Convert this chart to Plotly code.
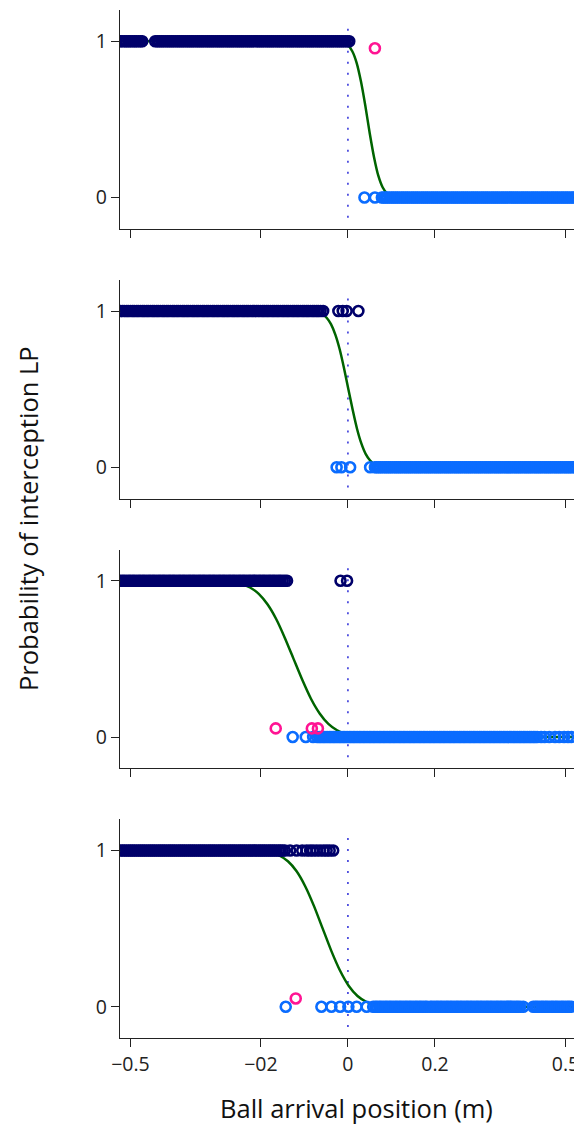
import plotly.graph_objects as go
from plotly.subplots import make_subplots

# ---------------- data ----------------
X_TICKS = [-0.5, -0.2, 0, 0.2, 0.5]
X_TICKTEXT = ["\u22120.5", "\u221202", "0", "0.2", "0.5"]
Y_TICKS = [0, 1]
Y_TICKTEXT = ["0", "1"]

# Panel 1
p1_hit = [-0.523, -0.519, -0.514, -0.510, -0.505, -0.501, -0.496, -0.491, -0.487, -0.482, -0.477, -0.473,
          -0.443, -0.438, -0.434, -0.429, -0.425, -0.420, -0.415, -0.411, -0.406, -0.402, -0.397, -0.392,
          -0.388, -0.383, -0.379, -0.374, -0.369, -0.365, -0.360, -0.356, -0.351, -0.346, -0.342, -0.337,
          -0.333, -0.328, -0.323, -0.319, -0.314, -0.310, -0.305, -0.300, -0.296, -0.291, -0.287, -0.282,
          -0.277, -0.273, -0.268, -0.264, -0.259, -0.254, -0.250, -0.245, -0.241, -0.236, -0.231, -0.227,
          -0.222, -0.218, -0.213, -0.208, -0.204, -0.199, -0.195, -0.190, -0.185, -0.181, -0.176, -0.172,
          -0.167, -0.162, -0.158, -0.153, -0.149, -0.144, -0.139, -0.135, -0.130, -0.126, -0.121, -0.116,
          -0.112, -0.107, -0.103, -0.098, -0.093, -0.089, -0.084, -0.080, -0.075, -0.070, -0.066, -0.061,
          -0.057, -0.052, -0.047, -0.043, -0.038, -0.034, -0.029, -0.024, -0.020, -0.015, -0.011, -0.006,
          -0.001, 0.003]
p1_miss = [0.038, 0.062, 0.078, 0.082, 0.087, 0.091, 0.096, 0.101, 0.105, 0.110, 0.114, 0.119, 0.124,
           0.128, 0.133, 0.137, 0.142, 0.147, 0.151, 0.156, 0.160, 0.165, 0.170, 0.174, 0.179, 0.183,
           0.188, 0.193, 0.197, 0.202, 0.206, 0.211, 0.216, 0.220, 0.225, 0.229, 0.234, 0.239, 0.243,
           0.248, 0.252, 0.257, 0.262, 0.266, 0.271, 0.275, 0.280, 0.285, 0.289, 0.294, 0.298, 0.303,
           0.308, 0.312, 0.317, 0.321, 0.326, 0.331, 0.335, 0.340, 0.344, 0.349, 0.354, 0.358, 0.363,
           0.367, 0.372, 0.377, 0.381, 0.386, 0.390, 0.395, 0.400, 0.404, 0.409, 0.413, 0.418, 0.423,
           0.427, 0.432, 0.436, 0.441, 0.446, 0.450, 0.455, 0.459, 0.464, 0.469, 0.473, 0.478, 0.482,
           0.487, 0.492, 0.496, 0.501, 0.505, 0.510, 0.515, 0.519]
p1_odd_x = [0.062]
p1_odd_y = [0.955]
p1_curve_x = [-0.524, -0.040, -0.025, -0.010, 0.000, 0.010, 0.020, 0.030, 0.040, 0.050, 0.060,
              0.070, 0.080, 0.090, 0.100, 0.115, 0.130, 0.522]
p1_curve_y = [1.0, 1.0, 0.999, 0.992, 0.975, 0.936, 0.862, 0.742, 0.587, 0.413, 0.258,
              0.138, 0.064, 0.025, 0.008, 0.001, 0.0, 0.0]

# Panel 2
p2_hit = [-0.523, -0.518, -0.514, -0.509, -0.505, -0.500, -0.495, -0.491, -0.486, -0.482, -0.477, -0.472,
          -0.468, -0.463, -0.459, -0.454, -0.449, -0.445, -0.440, -0.436, -0.431, -0.426, -0.422, -0.417,
          -0.413, -0.408, -0.403, -0.399, -0.394, -0.390, -0.385, -0.380, -0.376, -0.371, -0.367, -0.362,
          -0.357, -0.353, -0.348, -0.344, -0.339, -0.334, -0.330, -0.325, -0.321, -0.316, -0.311, -0.307,
          -0.302, -0.298, -0.293, -0.288, -0.284, -0.279, -0.275, -0.270, -0.265, -0.261, -0.256, -0.252,
          -0.247, -0.242, -0.238, -0.233, -0.229, -0.224, -0.219, -0.215, -0.210, -0.206, -0.201, -0.196,
          -0.192, -0.187, -0.183, -0.178, -0.173, -0.169, -0.164, -0.160, -0.155, -0.150, -0.146, -0.141,
          -0.137, -0.132, -0.127, -0.123, -0.118, -0.114, -0.109, -0.104, -0.100, -0.095, -0.091, -0.086,
          -0.081, -0.077, -0.072, -0.068, -0.063, -0.057, -0.022, -0.012, -0.003, 0.024]
p2_miss = [-0.026, -0.015, 0.005, 0.051, 0.062, 0.066, 0.071, 0.075, 0.080, 0.085, 0.089, 0.094, 0.098,
           0.103, 0.108, 0.112, 0.117, 0.121, 0.126, 0.131, 0.135, 0.140, 0.144, 0.149, 0.154, 0.158,
           0.163, 0.167, 0.172, 0.177, 0.181, 0.186, 0.190, 0.195, 0.200, 0.204, 0.209, 0.213, 0.218,
           0.223, 0.227, 0.232, 0.236, 0.241, 0.246, 0.250, 0.255, 0.259, 0.264, 0.269, 0.273, 0.278,
           0.282, 0.287, 0.292, 0.296, 0.301, 0.305, 0.310, 0.315, 0.319, 0.324, 0.328, 0.333, 0.338,
           0.342, 0.347, 0.351, 0.356, 0.361, 0.365, 0.370, 0.374, 0.379, 0.384, 0.388, 0.393, 0.397,
           0.402, 0.407, 0.411, 0.416, 0.420, 0.425, 0.430, 0.434, 0.439, 0.443, 0.448, 0.453, 0.457,
           0.462, 0.466, 0.471, 0.476, 0.480, 0.485, 0.489, 0.494, 0.499, 0.503, 0.508, 0.512, 0.517, 0.520]
p2_odd_x = []
p2_odd_y = []
p2_curve_x = [-0.524, -0.110, -0.089, -0.069, -0.059, -0.049, -0.039, -0.029, -0.019, -0.009, 0.001,
              0.011, 0.021, 0.031, 0.041, 0.051, 0.061, 0.071, 0.091, 0.110, 0.522]
p2_curve_y = [1.0, 1.0, 0.999, 0.992, 0.981, 0.957, 0.916, 0.849, 0.755, 0.634, 0.5,
              0.366, 0.245, 0.151, 0.084, 0.043, 0.019, 0.007, 0.001, 0.0, 0.0]

# Panel 3
p3_hit = [-0.523, -0.518, -0.514, -0.509, -0.504, -0.500, -0.495, -0.491, -0.486, -0.481, -0.477, -0.472,
          -0.468, -0.463, -0.458, -0.454, -0.449, -0.445, -0.440, -0.435, -0.431, -0.426, -0.422, -0.417,
          -0.412, -0.408, -0.403, -0.399, -0.394, -0.389, -0.385, -0.380, -0.376, -0.371, -0.366, -0.362,
          -0.357, -0.353, -0.348, -0.343, -0.339, -0.334, -0.330, -0.325, -0.320, -0.316, -0.311, -0.307,
          -0.302, -0.297, -0.293, -0.288, -0.284, -0.279, -0.274, -0.270, -0.265, -0.261, -0.256, -0.251,
          -0.247, -0.242, -0.238, -0.233, -0.228, -0.224, -0.219, -0.215, -0.210, -0.205, -0.201, -0.196,
          -0.192, -0.187, -0.182, -0.178, -0.173, -0.169, -0.164, -0.159, -0.155, -0.150, -0.145, -0.140,
          -0.017, -0.002]
p3_miss = [-0.127, -0.097, -0.080, -0.071, -0.066, -0.062, -0.057, -0.053, -0.048, -0.043, -0.039, -0.034,
           -0.030, -0.025, -0.020, -0.016, -0.011, -0.007, -0.002, 0.003, 0.007, 0.012, 0.016, 0.021,
           0.026, 0.030, 0.035, 0.039, 0.044, 0.049, 0.053, 0.058, 0.062, 0.067, 0.072, 0.076, 0.081,
           0.085, 0.090, 0.095, 0.099, 0.104, 0.108, 0.113, 0.118, 0.122, 0.127, 0.131, 0.136, 0.141,
           0.145, 0.150, 0.154, 0.159, 0.164, 0.168, 0.173, 0.177, 0.182, 0.187, 0.191, 0.196, 0.200,
           0.205, 0.210, 0.214, 0.219, 0.223, 0.228, 0.233, 0.237, 0.242, 0.246, 0.251, 0.256, 0.260,
           0.265, 0.269, 0.274, 0.279, 0.283, 0.288, 0.292, 0.297, 0.302, 0.306, 0.311, 0.315, 0.320,
           0.325, 0.329, 0.334, 0.338, 0.343, 0.348, 0.352, 0.357, 0.361, 0.366, 0.371, 0.375, 0.380,
           0.384, 0.389, 0.394, 0.398, 0.403, 0.407, 0.412, 0.417, 0.421, 0.426, 0.430, 0.435, 0.444,
           0.452, 0.463, 0.476, 0.486, 0.497, 0.506, 0.514]
p3_odd_x = [-0.166, -0.083, -0.069]
p3_odd_y = [0.055, 0.055, 0.055]
p3_curve_x = [-0.524, -0.325, -0.285, -0.265, -0.245, -0.225, -0.205, -0.185, -0.165, -0.145, -0.125,
              -0.105, -0.085, -0.065, -0.045, -0.025, -0.005, 0.015, 0.035, 0.075, 0.522]
p3_curve_y = [1.0, 1.0, 0.997, 0.992, 0.981, 0.957, 0.916, 0.849, 0.755, 0.634, 0.5,
              0.366, 0.245, 0.151, 0.084, 0.043, 0.019, 0.007, 0.002, 0.0, 0.0]

# Panel 4
p4_hit = [-0.523, -0.518, -0.514, -0.509, -0.504, -0.500, -0.495, -0.491, -0.486, -0.481, -0.477, -0.472,
          -0.468, -0.463, -0.458, -0.454, -0.449, -0.445, -0.440, -0.435, -0.431, -0.426, -0.422, -0.417,
          -0.412, -0.408, -0.403, -0.399, -0.394, -0.389, -0.385, -0.380, -0.376, -0.371, -0.366, -0.362,
          -0.357, -0.353, -0.348, -0.343, -0.339, -0.334, -0.330, -0.325, -0.320, -0.316, -0.311, -0.307,
          -0.302, -0.297, -0.293, -0.288, -0.284, -0.279, -0.274, -0.270, -0.265, -0.261, -0.256, -0.251,
          -0.247, -0.242, -0.238, -0.233, -0.228, -0.224, -0.219, -0.215, -0.210, -0.205, -0.201, -0.196,
          -0.192, -0.187, -0.182, -0.178, -0.173, -0.169, -0.164, -0.159, -0.155, -0.150, -0.145, -0.133,
          -0.118, -0.105, -0.095, -0.087, -0.080, -0.072, -0.064, -0.056, -0.049, -0.042, -0.034]
p4_miss = [-0.143, -0.061, -0.038, -0.018, 0.001, 0.020, 0.043, 0.058, 0.063, 0.067, 0.072, 0.076, 0.081,
           0.086, 0.090, 0.095, 0.099, 0.104, 0.109, 0.113, 0.118, 0.122, 0.127, 0.132, 0.136, 0.141,
           0.145, 0.150, 0.155, 0.159, 0.164, 0.168, 0.173, 0.178, 0.182, 0.189, 0.193, 0.198, 0.203,
           0.207, 0.212, 0.216, 0.221, 0.226, 0.230, 0.235, 0.239, 0.244, 0.249, 0.253, 0.258, 0.262,
           0.267, 0.272, 0.276, 0.281, 0.285, 0.290, 0.295, 0.299, 0.304, 0.308, 0.313, 0.318, 0.322,
           0.327, 0.331, 0.336, 0.341, 0.345, 0.350, 0.354, 0.359, 0.364, 0.368, 0.373, 0.377, 0.382,
           0.387, 0.391, 0.396, 0.403, 0.426, 0.431, 0.435, 0.440, 0.445, 0.449, 0.454, 0.458, 0.463,
           0.468, 0.472, 0.477, 0.481, 0.486, 0.491, 0.495, 0.500, 0.505, 0.509, 0.514]
p4_odd_x = [-0.120]
p4_odd_y = [0.053]
p4_curve_x = [-0.524, -0.258, -0.218, -0.198, -0.178, -0.158, -0.138, -0.118, -0.098, -0.078, -0.058,
              -0.038, -0.018, 0.002, 0.022, 0.042, 0.062, 0.082, 0.102, 0.142, 0.522]
p4_curve_y = [1.0, 1.0, 0.998, 0.995, 0.987, 0.968, 0.931, 0.867, 0.770, 0.644, 0.5,
              0.356, 0.230, 0.133, 0.069, 0.032, 0.013, 0.005, 0.002, 0.0, 0.0]

panels = [
    (p1_hit, p1_miss, p1_odd_x, p1_odd_y, p1_curve_x, p1_curve_y),
    (p2_hit, p2_miss, p2_odd_x, p2_odd_y, p2_curve_x, p2_curve_y),
    (p3_hit, p3_miss, p3_odd_x, p3_odd_y, p3_curve_x, p3_curve_y),
    (p4_hit, p4_miss, p4_odd_x, p4_odd_y, p4_curve_x, p4_curve_y),
]

# ---------------- styles ----------------
NAVY = "#00006a"
LIGHT = "#0a6cff"
PINK = "#ff1493"
GREEN = "#006400"
FONT = "Open Sans"
AX_COL = "#222222"
MSIZE = 10
MLW = 2.6

fig = make_subplots(rows=4, cols=1, vertical_spacing=51 / 1028)

for i, (hit, miss, ox, oy, cx, cy) in enumerate(panels, start=1):
    fig.add_trace(go.Scatter(x=cx, y=cy, mode="lines",
                             line=dict(color=GREEN, width=2.5, shape="spline", smoothing=0.6),
                             hoverinfo="skip", showlegend=False), row=i, col=1)
    fig.add_trace(go.Scatter(x=hit, y=[1] * len(hit), mode="markers",
                             marker=dict(symbol="circle-open", size=MSIZE, color=NAVY,
                                         line=dict(width=MLW, color=NAVY)),
                             showlegend=False), row=i, col=1)
    fig.add_trace(go.Scatter(x=miss, y=[0] * len(miss), mode="markers",
                             marker=dict(symbol="circle-open", size=MSIZE, color=LIGHT,
                                         line=dict(width=MLW, color=LIGHT)),
                             showlegend=False), row=i, col=1)
    if ox:
        fig.add_trace(go.Scatter(x=ox, y=oy, mode="markers",
                                 marker=dict(symbol="circle-open", size=MSIZE, color=PINK,
                                             line=dict(width=MLW, color=PINK)),
                                 showlegend=False), row=i, col=1)
    sfx = str(i) if i > 1 else ""
    fig.add_shape(type="line", x0=0, x1=0, y0=-0.13, y1=1.1, xref="x" + sfx, yref="y" + sfx,
                  layer="below", line=dict(color="#2a2ad8", width=1.5, dash="2px,9px"))
    fig.update_xaxes(row=i, col=1, range=[-0.524, 0.522], tickvals=X_TICKS, ticktext=X_TICKTEXT,
                     showticklabels=(i == 4), ticks="outside", ticklen=8, tickwidth=1.3, tickcolor=AX_COL,
                     showline=True, linecolor=AX_COL, linewidth=1.3, showgrid=False, zeroline=False,
                     tickfont=dict(family=FONT, size=19.5, color="#222222"))
    fig.update_yaxes(row=i, col=1, range=[-0.2, 1.2], tickvals=Y_TICKS, ticktext=Y_TICKTEXT,
                     ticks="outside", ticklen=8, tickwidth=1.3, tickcolor=AX_COL,
                     showline=True, linecolor=AX_COL, linewidth=1.3, showgrid=False, zeroline=False,
                     tickfont=dict(family=FONT, size=19.5, color="#222222"))

# plot area (page px): x 120..575, y 10..1038 ; page has an 8px body margin
fig.add_annotation(text="Probability of interception LP", xref="paper", yref="paper",
                   x=(28 - 120) / 455, y=(1038 - 519) / 1028, textangle=-90, showarrow=False,
                   xanchor="center", yanchor="middle", font=dict(family=FONT, size=25.5, color="#111111"))
fig.add_annotation(text="Ball arrival position (m)", xref="paper", yref="paper",
                   x=(356 - 120) / 455, y=(1038 - 1108) / 1028, showarrow=False,
                   xanchor="center", yanchor="middle", font=dict(family=FONT, size=25.5, color="#111111"))

fig.update_layout(width=574, height=1119, margin=dict(l=112, r=7, t=2, b=89),
                  plot_bgcolor="white", paper_bgcolor="white", showlegend=False)

fig.write_html("out.html")
